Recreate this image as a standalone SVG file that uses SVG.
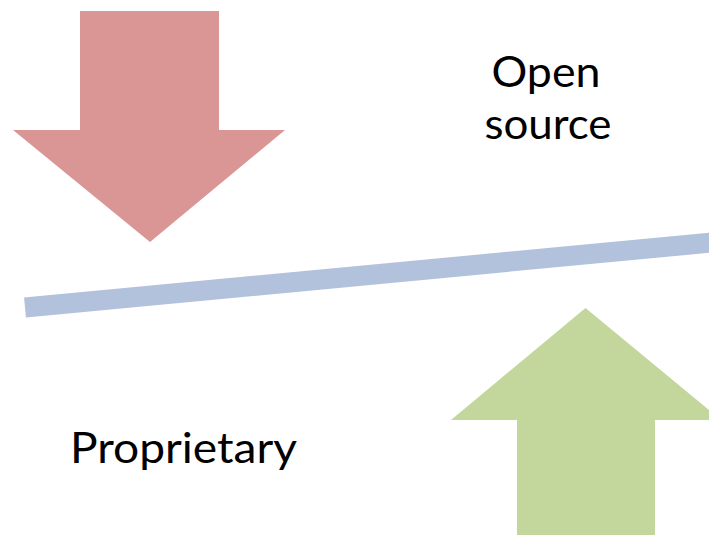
<svg xmlns="http://www.w3.org/2000/svg" width="709" height="535" viewBox="0 0 709 535">
<style>
.lbl{font-family:Lato,"Open Sans","Liberation Sans",sans-serif;font-size:42px;fill:#000}
</style>
<rect width="709" height="535" fill="#fff"/>
<g id="proprietary-arrow">
<polygon points="80,11 219,11 219,130 285,130 150,242 13,130 80,130" fill="#D99694"/>
</g>
<g id="open-source-arrow">
<polygon points="585.5,308 721,420 655,420 655,535 517,535 517,420 451,420" fill="#C3D69B"/>
</g>
<g id="connectors">
<line x1="25" y1="307.5" x2="712" y2="242.5" stroke="#B2C2DC" stroke-width="20"/>
</g>
<g id="label-open-source">
<text class="lbl" x="546" y="87" text-anchor="middle" textLength="109" lengthAdjust="spacingAndGlyphs">Open</text>
<text class="lbl" x="548" y="139" text-anchor="middle" textLength="127" lengthAdjust="spacingAndGlyphs">source</text>
</g>
<g id="label-proprietary">
<text class="lbl" x="70" y="463" textLength="227" lengthAdjust="spacingAndGlyphs">Proprietary</text>
</g>
</svg>
